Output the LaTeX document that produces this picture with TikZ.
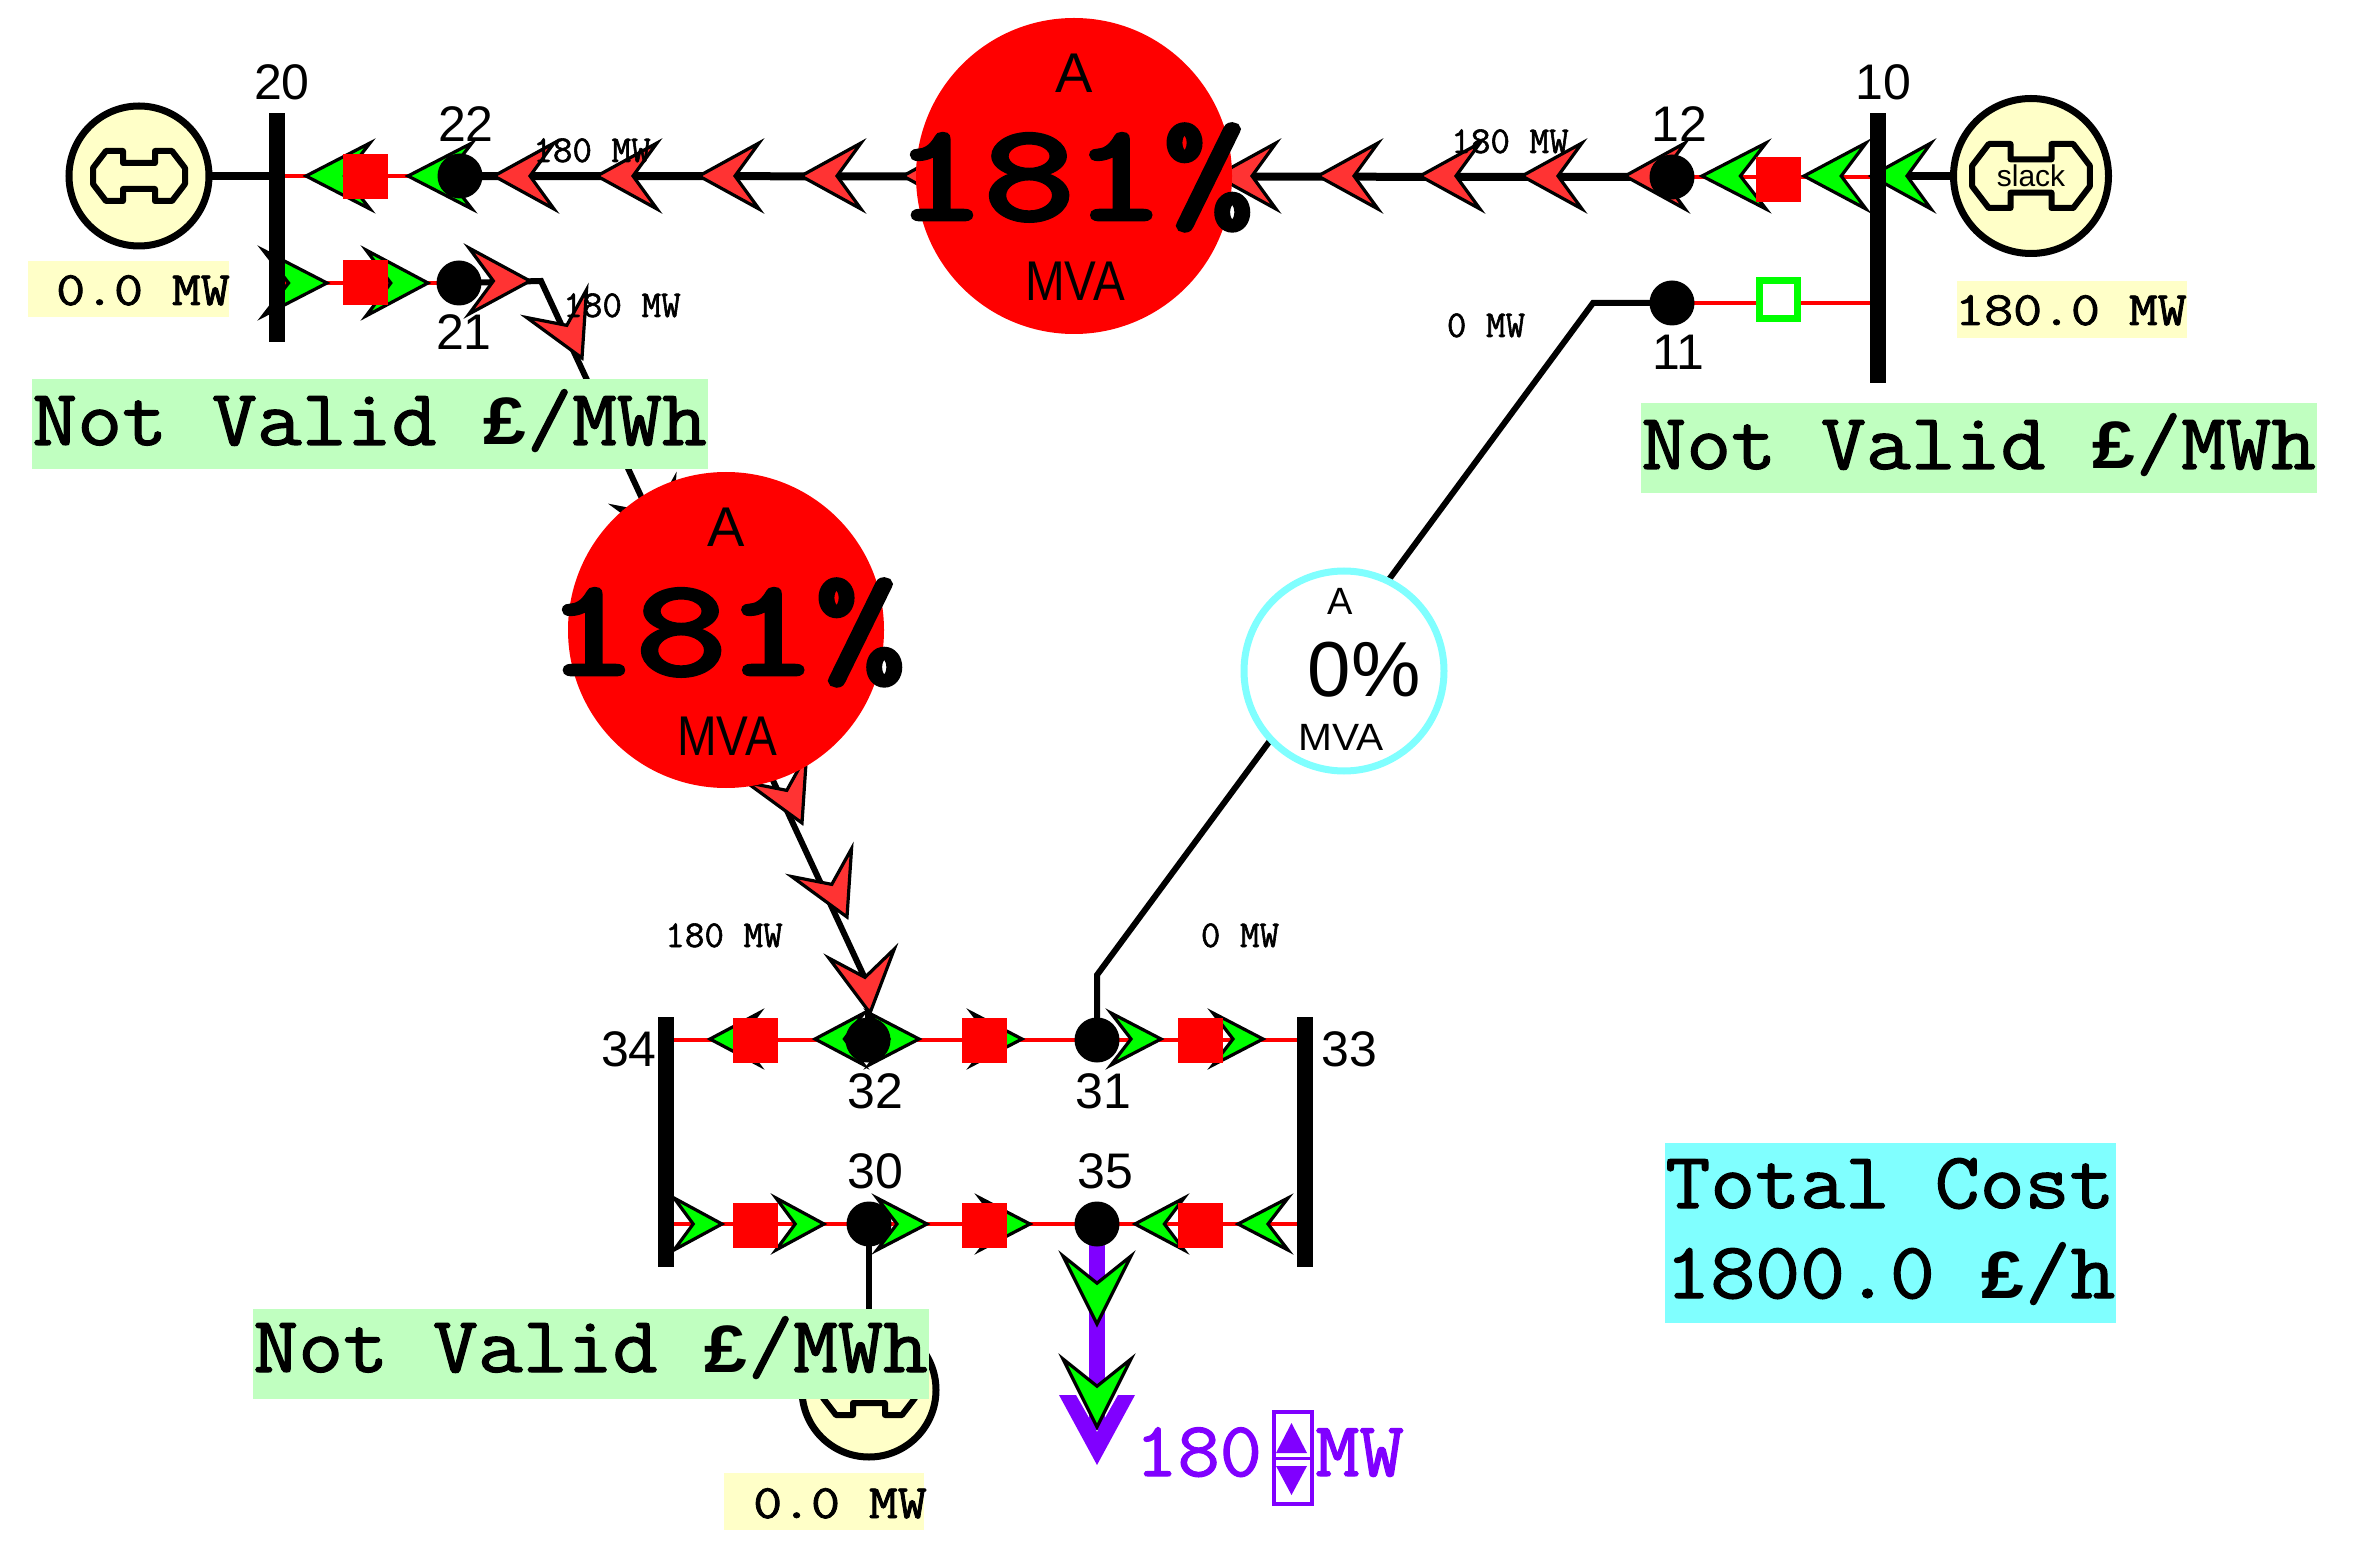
\documentclass[tikz,border=0pt]{standalone}
\usepackage{fontspec}
\usepackage{graphicx}
\setsansfont{Liberation Sans}
\newfontfamily\cmono[FakeBold=1.5]{Latin Modern Mono}
\newfontfamily\cheavy[FakeBold=3.5]{Latin Modern Mono}
\newfontfamily\pnd{Liberation Mono Bold}
\definecolor{flowred}{HTML}{FF3333}
\definecolor{flowgreen}{HTML}{00FF00}
\definecolor{genfill}{HTML}{FFFFC8}
\definecolor{lmpgreen}{HTML}{C0FFC0}
\definecolor{costcyan}{HTML}{80FFFF}
\definecolor{loadpurple}{HTML}{8000FF}
\newcommand{\fs}[1]{\fontsize{#1pt}{#1pt}\selectfont}
\newcommand{\poundsign}{{\pnd\fs{35}£}}
\newcommand{\flowarr}[6]{\draw[black,line width=1.6pt,miter limit=6,fill=#6,shift={(#1,#2)},rotate=#3] (0,0) -- (#4,#5) -- ({0.6*#4},0) -- (#4,-#5) -- cycle;}
\newcommand{\bonesym}[3]{\draw[black,line width=3pt,line join=round,shift={(#1,#2)},scale=#3] (-16,-13) -- (16,-13) -- (16,-25) -- (33,-25) -- (46,-8) -- (46,8) -- (33,25) -- (16,25) -- (16,13) -- (-16,13) -- (-16,25) -- (-33,25) -- (-46,8) -- (-46,-8) -- (-33,-25) -- (-16,-25) -- cycle;}
\tikzset{
 busbar/.style={rectangle,fill=black,inner sep=0pt,minimum width=8pt,minimum height=#1},
 junction/.style={circle,fill=black,inner sep=0pt,minimum size=22.5pt},
 closedbrk/.style={rectangle,fill=red,inner sep=0pt,minimum size=22.5pt},
 openbrk/.style={rectangle,fill=white,draw=flowgreen,line width=3.5pt,inner sep=0pt,minimum size=19pt},
 gen/.style={circle,fill=genfill,draw=black,line width=3.5pt,inner sep=0pt,minimum size=#1},
 flowdisc/.style={circle,fill=red,inner sep=0pt,minimum size=158pt},
 heavy/.style={black,line width=4pt},
 medium/.style={black,line width=3pt},
 thinred/.style={red,line width=1.8pt},
 swatch/.style={rectangle,inner sep=0pt,anchor=north west},
 txt/.style={inner sep=0pt,anchor=base},
 busnum/.style={txt,font=\sffamily\fs{25}},
 smallmw/.style={txt,font=\cmono\fs{19}},
 genmw/.style={txt,font=\cmono\fs{24}},
 lmp/.style={txt,anchor=base west,font=\cmono\fs{40}},
}
\begin{document}
\begin{tikzpicture}[x=0.5pt,y=-0.5pt]
\useasboundingbox (0,0) rectangle (2367,1561);
\coordinate (kinkA) at (541,281);
\coordinate (kinkB) at (868,985);
\coordinate (kinkC) at (1593,303);
\coordinate (kinkD) at (1097,975);
\coordinate (p20) at (139,176);
\coordinate (b20) at (277,228);
\coordinate (p22) at (460,176);
\coordinate (p21) at (459,283);
\coordinate (p12) at (1672,177);
\coordinate (p11) at (1672,303);
\coordinate (b10) at (1878,248);
\coordinate (pslack) at (2031,176);
\coordinate (p32) at (868,1040);
\coordinate (p31) at (1097,1040);
\coordinate (p30) at (869,1224);
\coordinate (p35) at (1097,1224);
\coordinate (b34) at (666,1142);
\coordinate (b33) at (1305,1142);
\coordinate (pgen3) at (869,1390);
\coordinate (pload) at (1097,1430);
% ---- connectors
\draw[heavy] (p20) -- (b20 |- p20);
\draw[thinred] (b20 |- p22) -- (p22);
\draw[heavy] (p22) -- (p12);
\draw[thinred] (p12) -- (b10 |- p12);
\draw[heavy] (b10 |- pslack) -- (pslack);
\draw[thinred] (b20 |- p21) -- (p21);
\draw[medium] (p21) -- (kinkA) -- (kinkB) -- (p32);
\draw[thinred] (p11) -- (b10 |- p11);
\draw[medium] (p11) -- (kinkC) -- (kinkD) -- (p31);
\draw[thinred] (b34 |- p32) -- (b33 |- p32);
\draw[thinred] (b34 |- p30) -- (b33 |- p30);
\draw[medium] (p30) -- (pgen3);
\draw[loadpurple,line width=8pt] (p35) -- (pload);
% ---- flow arrows, upper line
\flowarr{306}{176}{0}{64}{33}{flowgreen}
\flowarr{408}{176}{0}{64}{33}{flowgreen}
\flowarr{494}{176}{0}{60}{33}{flowred}
\flowarr{597}{176}{0}{60}{33}{flowred}
\flowarr{699}{176}{0}{60}{33}{flowred}
\flowarr{801}{176}{0}{60}{33}{flowred}
\flowarr{903}{176}{0}{60}{33}{flowred}
\flowarr{1216}{176}{0}{60}{33}{flowred}
\flowarr{1318}{176}{0}{60}{33}{flowred}
\flowarr{1420}{176}{0}{60}{33}{flowred}
\flowarr{1522}{176}{0}{60}{33}{flowred}
\flowarr{1625}{176}{0}{60}{33}{flowred}
\flowarr{1702}{176}{0}{64}{33}{flowgreen}
\flowarr{1804}{176}{0}{62}{33}{flowgreen}
\flowarr{1871}{176}{0}{60}{33}{flowgreen}
% ---- row of bus 21
\flowarr{327}{283}{180}{64}{33}{flowgreen}
\flowarr{428}{283}{180}{62}{33}{flowgreen}
\flowarr{530}{281}{180}{61}{33}{flowred}
% ---- diagonal
\flowarr{582}{358}{115}{60}{33}{flowred}
\flowarr{670}{547}{115}{60}{33}{flowred}
\flowarr{802}{823}{115}{60}{33}{flowred}
\flowarr{847}{917}{115}{60}{33}{flowred}
\flowarr{870}{1013}{98}{60}{33}{flowred}
% ---- row 31/32
\flowarr{710}{1039}{0}{49}{26}{flowgreen}
\flowarr{815}{1039}{0}{49}{26}{flowgreen}
\flowarr{919}{1039}{180}{50}{26}{flowgreen}
\flowarr{1022}{1039}{180}{50}{26}{flowgreen}
\flowarr{1161}{1039}{180}{50}{26}{flowgreen}
\flowarr{1263}{1039}{180}{50}{26}{flowgreen}
% ---- row 30/35
\flowarr{722}{1224}{180}{48}{26}{flowgreen}
\flowarr{824}{1224}{180}{48}{26}{flowgreen}
\flowarr{927}{1224}{180}{50}{26}{flowgreen}
\flowarr{1030}{1224}{180}{50}{26}{flowgreen}
\flowarr{1135}{1224}{0}{49}{26}{flowgreen}
\flowarr{1238}{1224}{0}{50}{26}{flowgreen}
% ---- load arrowhead and its flow arrows
\fill[loadpurple] (1059,1395) -- (1097,1465) -- (1135,1395) -- (1118,1395) -- (1097,1432) -- (1076,1395) -- cycle;
\flowarr{1097}{1324}{90}{68}{34}{flowgreen}
\flowarr{1097}{1427}{90}{68}{34}{flowgreen}
% ---- breakers
\node[closedbrk] (s20a) at (365,177) {};
\node[closedbrk] (s20b) at (365,283) {};
\node[closedbrk] (s10a) at (1778,180) {};
\node[openbrk] (s10b) at (1778,300) {};
\node[closedbrk] (s34a) at (755,1040) {};
\node[closedbrk] (s32a) at (984,1040) {};
\node[closedbrk] (s33a) at (1200,1040) {};
\node[closedbrk] (s34b) at (755,1225) {};
\node[closedbrk] (s30b) at (984,1225) {};
\node[closedbrk] (s33b) at (1200,1225) {};
% ---- junctions
\node[junction] (c22) at (p22) {};
\node[junction] (c21) at (p21) {};
\node[junction] (c12) at (p12) {};
\node[junction] (c11) at (p11) {};
\node[junction] (c32) at (p32) {};
\node[junction] (c31) at (p31) {};
\node[junction] (c30) at (p30) {};
\node[junction] (c35) at (p35) {};
% ---- busbars
\node[busbar=114.5pt] (bus20) at (b20) {};
\node[busbar=135pt] (bus10) at (b10) {};
\node[busbar=125pt] (bus34) at (b34) {};
\node[busbar=125pt] (bus33) at (b33) {};
% ---- generators
\node[gen=70pt] (gen20) at (p20) {};
\bonesym{139}{176}{1}
\node[gen=77.5pt] (genslack) at (pslack) {};
\bonesym{2031}{176}{1.28}
\node[txt,font=\sffamily\fs{15}] (slacklbl) at (2031,187) {slack};
\node[gen=67pt] (gen30) at (pgen3) {};
\bonesym{869}{1390}{1}
% ---- flow discs
\node[flowdisc] (disc1) at (1074,176) {};
\node[flowdisc] (disc2) at (726,630) {};
\node[circle,fill=white,draw=costcyan,line width=3.5pt,inner sep=0pt,minimum size=100pt] (disc3) at (1344,671) {};
\node[txt,font=\sffamily\fs{28}] (d1a) at (1074,93) {A};
\node[txt,font=\cheavy\fs{68}] (d1p) at (1074,219) {\scalebox{1.28}[1]{181\%}};
\node[txt,font=\sffamily\fs{28}] (d1m) at (1075,301) {\scalebox{0.85}[1]{MVA}};
\node[txt,font=\sffamily\fs{28}] (d2a) at (726,547) {A};
\node[txt,font=\cheavy\fs{68}] (d2p) at (726,674) {\scalebox{1.28}[1]{181\%}};
\node[txt,font=\sffamily\fs{28}] (d2m) at (727,755) {\scalebox{0.85}[1]{MVA}};
\node[txt,font=\sffamily\fs{19}] (d3a) at (1340,615) {A};
\node[txt,font=\sffamily\fs{39}] (d3p) at (1364,697) {0\%};
\node[txt,font=\sffamily\fs{19}] (d3m) at (1341,750) {\scalebox{1.07}[1]{MVA}};
% ---- colour boxes
\node[swatch,fill=genfill,minimum width=100.5pt,minimum height=28pt] (gb1) at (28,261) {};
\node[swatch,fill=genfill,minimum width=115pt,minimum height=28.5pt] (gb2) at (1957,281) {};
\node[swatch,fill=genfill,minimum width=100pt,minimum height=28.5pt] (gb3) at (724,1473) {};
\node[swatch,fill=lmpgreen,minimum width=338pt,minimum height=45pt] (lb1) at (32,379) {};
\node[swatch,fill=lmpgreen,minimum width=338pt,minimum height=45pt] (lb2) at (1641,403) {};
\node[swatch,fill=lmpgreen,minimum width=338pt,minimum height=45pt] (lb3) at (253,1309) {};
\node[swatch,fill=costcyan,minimum width=225.5pt,minimum height=90pt] (tc) at (1665,1143) {};
\node[genmw] (gt1) at (143,305) {\scalebox{1.17}[1]{0.0 MW}};
\node[genmw] (gt2) at (2071,325) {\scalebox{1.17}[1]{180.0 MW}};
\node[genmw] (gt3) at (840,1518) {\scalebox{1.17}[1]{0.0 MW}};
\node[lmp] (lt1) at (32,445) {\scalebox{1.09}[1]{Not Valid \poundsign/MWh}};
\node[lmp] (lt2) at (1641,469) {\scalebox{1.09}[1]{Not Valid \poundsign/MWh}};
\node[lmp] (lt3) at (253,1372) {\scalebox{1.09}[1]{Not Valid \poundsign/MWh}};
\node[lmp] (tc1) at (1665,1208) {\scalebox{1.09}[1]{Total Cost}};
\node[lmp] (tc2) at (1665,1298) {\scalebox{1.09}[1]{1800.0 \poundsign/h}};
% ---- bus numbers
\node[busnum] (n20) at (282,100) {20};
\node[busnum] (n22) at (466,142) {22};
\node[busnum] (n21) at (464,350) {21};
\node[busnum] (n10) at (1883,100) {10};
\node[busnum] (n12) at (1679,142) {12};
\node[busnum] (n11) at (1678,370) {11};
\node[busnum] (n34) at (629,1066) {34};
\node[busnum] (n33) at (1349,1066) {33};
\node[busnum] (n32) at (875,1108) {32};
\node[busnum] (n31) at (1103,1108) {31};
\node[busnum] (n30) at (875,1188) {30};
\node[busnum] (n35) at (1105,1188) {35};
% ---- small flow labels
\node[smallmw] (f1) at (592,162) {180 MW};
\node[smallmw] (f2) at (1510,153) {180 MW};
\node[smallmw] (f3) at (622,317) {180 MW};
\node[smallmw] (f4) at (1486,337) {0 MW};
\node[smallmw] (f5) at (724,947) {180 MW};
\node[smallmw] (f6) at (1240,947) {0 MW};
% ---- load value and spinner
\node[txt,anchor=base west,text=loadpurple,font=\cmono\fs{39}] (l180) at (1135,1476) {\scalebox{1.05}[1]{180}};
\node[rectangle,draw=loadpurple,line width=1.7pt,fill=white,inner sep=0pt,minimum width=19pt,minimum height=46pt] (spin) at (1293,1458) {};
\fill[loadpurple] (1276,1453) -- (1291.5,1423) -- (1307,1453) -- cycle;
\fill[loadpurple] (1276,1466) -- (1291.5,1495) -- (1307,1466) -- cycle;
\draw[loadpurple,line width=1.5pt] (spin.west) -- (spin.east);
\node[txt,anchor=base west,text=loadpurple,font=\cmono\fs{39}] (lmw) at (1315,1476) {\scalebox{1.1}[1]{MW}};
\end{tikzpicture}
\end{document}
